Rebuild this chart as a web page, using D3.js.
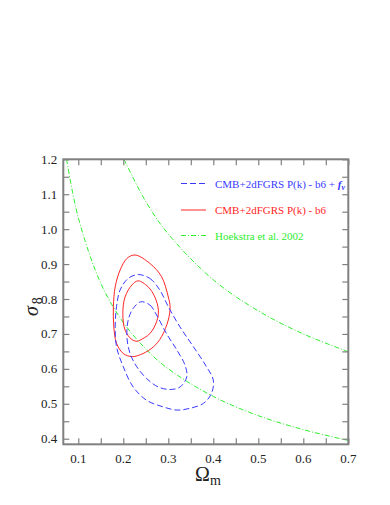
<!DOCTYPE html>
<html>
<head>
<meta charset="utf-8">
<script src="https://cdn.jsdelivr.net/npm/d3@7"></script>
<style>
  body { margin: 0; background: #fff; }
  svg { display: block; }
  svg text { font-family: "Liberation Serif", "Times New Roman", "DejaVu Serif", serif; }
</style>
</head>
<body>
<svg id="chart"></svg>
<script>
const width = 390, height = 505;
const plotLeft = 63.3, plotRight = 348.3, plotTop = 159.3, plotBottom = 444.3;

// axis ticks
const xTicks = [0.1, 0.2, 0.3, 0.4, 0.5, 0.6, 0.7];
const yTicks = [0.4, 0.5, 0.6, 0.7, 0.8, 0.9, 1.0, 1.1, 1.2];

// Hoekstra et al. 2002 curves
const hoekLowOm  = [0.074, 0.1, 0.15, 0.2, 0.25, 0.3, 0.4, 0.5, 0.6, 0.7];
const hoekLowS8  = [1.2, 1.033, 0.845, 0.733, 0.657, 0.600, 0.521, 0.466, 0.426, 0.395];
const hoekHighOm = [0.2015, 0.25, 0.3, 0.4, 0.5, 0.6, 0.7];
const hoekHighS8 = [1.2, 1.079, 0.986, 0.855, 0.766, 0.700, 0.649];

// CMB+2dFGRS P(k) - b6 (red, solid)
const redOuterOm = [0.226, 0.259, 0.285, 0.300, 0.304, 0.300, 0.285, 0.267, 0.244, 0.220, 0.200, 0.185, 0.179, 0.178, 0.182, 0.193, 0.208];
const redOuterS8 = [0.926, 0.902, 0.864, 0.806, 0.778, 0.740, 0.692, 0.663, 0.644, 0.635, 0.644, 0.673, 0.720, 0.778, 0.835, 0.883, 0.916];
const redInnerOm = [0.233, 0.255, 0.270, 0.278, 0.274, 0.259, 0.237, 0.231, 0.219, 0.204, 0.199, 0.204, 0.219];
const redInnerS8 = [0.852, 0.835, 0.806, 0.768, 0.735, 0.701, 0.682, 0.679, 0.684, 0.711, 0.759, 0.806, 0.840];

// CMB+2dFGRS P(k) - b6 + f_nu (blue, dashed)
const blueOuterOm = [0.233, 0.259, 0.281, 0.300, 0.326, 0.356, 0.385, 0.400, 0.396, 0.378, 0.348, 0.319, 0.289, 0.252, 0.222, 0.200, 0.185, 0.182, 0.185, 0.193, 0.211];
const blueOuterS8 = [0.870, 0.859, 0.826, 0.778, 0.720, 0.663, 0.606, 0.568, 0.530, 0.501, 0.487, 0.482, 0.491, 0.510, 0.548, 0.606, 0.663, 0.720, 0.778, 0.826, 0.859];
const blueInnerOm = [0.239, 0.259, 0.274, 0.296, 0.319, 0.337, 0.341, 0.326, 0.304, 0.278, 0.252, 0.230, 0.215, 0.208, 0.211, 0.222];
const blueInnerS8 = [0.792, 0.783, 0.754, 0.701, 0.654, 0.611, 0.577, 0.548, 0.541, 0.548, 0.572, 0.606, 0.644, 0.692, 0.740, 0.773];

const legendLabels = ["CMB+2dFGRS P(k) - b6 + ", "CMB+2dFGRS P(k) - b6", "Hoekstra et al. 2002"];

const blue = "#3a3aff", red = "#ff2525", green = "#30ee30", frame = "#808080";
const serif = "'Liberation Serif', 'Times New Roman', 'DejaVu Serif', serif";

const svg = d3.select("#chart").attr("width", width).attr("height", height);

const x = d3.scaleLinear().domain([0.0667, 0.7]).range([plotLeft, plotRight]);
const y = d3.scaleLinear().domain([0.384, 1.2]).range([plotBottom, plotTop]);

const zip = (a, b) => a.map((v, i) => [v, b[i]]);

svg.append("clipPath").attr("id", "clip")
    .append("rect").attr("x", plotLeft).attr("y", plotTop)
    .attr("width", plotRight - plotLeft).attr("height", plotBottom - plotTop);

const plot = svg.append("g").attr("clip-path", "url(#clip)");

const curveLine = d3.line().x(d => x(d[0])).y(d => y(d[1])).curve(d3.curveCatmullRom);
const closedLine = d3.line().x(d => x(d[0])).y(d => y(d[1])).curve(d3.curveCatmullRomClosed);

// green curves
[[hoekLowOm, hoekLowS8], [hoekHighOm, hoekHighS8]].forEach(([a, b]) => {
    plot.append("path")
        .attr("d", curveLine(zip(a, b)))
        .attr("fill", "none")
        .attr("stroke", green)
        .attr("stroke-width", 1)
        .attr("stroke-dasharray", "5,2,1,2");
});

// red contours
[[redOuterOm, redOuterS8], [redInnerOm, redInnerS8]].forEach(([a, b]) => {
    plot.append("path")
        .attr("d", closedLine(zip(a, b)))
        .attr("fill", "none")
        .attr("stroke", red)
        .attr("stroke-width", 1);
});

// blue contours
[[blueOuterOm, blueOuterS8], [blueInnerOm, blueInnerS8]].forEach(([a, b]) => {
    plot.append("path")
        .attr("d", closedLine(zip(a, b)))
        .attr("fill", "none")
        .attr("stroke", blue)
        .attr("stroke-width", 1)
        .attr("stroke-dasharray", "6,3");
});

// axes: ticks inward, minor ticks every 0.05
const xAll = d3.range(0.1, 0.701, 0.05);
const yAll = d3.range(0.4, 1.201, 0.05);

const bAxis = d3.axisBottom(x).tickValues(xAll).tickSizeInner(-6).tickSizeOuter(0).tickFormat("");
const tAxis = d3.axisTop(x).tickValues(xAll).tickSizeInner(-6).tickSizeOuter(0).tickFormat("");
const lAxis = d3.axisLeft(y).tickValues(yAll).tickSizeInner(-6).tickSizeOuter(0).tickFormat("");
const rAxis = d3.axisRight(y).tickValues(yAll).tickSizeInner(-6).tickSizeOuter(0).tickFormat("");

const styleAxis = g => {
    g.select(".domain").remove();
    g.selectAll("line").attr("stroke", frame).attr("stroke-width", 1.2);
};

svg.append("g").attr("transform", `translate(0,${plotBottom})`).call(bAxis).call(styleAxis);
svg.append("g").attr("transform", `translate(0,${plotTop})`).call(tAxis).call(styleAxis);
svg.append("g").attr("transform", `translate(${plotLeft},0)`).call(lAxis).call(styleAxis);
svg.append("g").attr("transform", `translate(${plotRight},0)`).call(rAxis).call(styleAxis);

svg.append("rect")
    .attr("x", plotLeft).attr("y", plotTop)
    .attr("width", plotRight - plotLeft).attr("height", plotBottom - plotTop)
    .attr("fill", "none").attr("stroke", frame).attr("stroke-width", 2);

// tick labels
svg.append("g").selectAll("text").data(xTicks).enter().append("text")
    .attr("x", d => x(d)).attr("y", plotBottom + 19)
    .attr("text-anchor", "middle")
    .attr("font-family", serif)
    .attr("font-size", 13).attr("fill", "#222")
    .text(d => d3.format(".1f")(d));

svg.append("g").selectAll("text").data(yTicks).enter().append("text")
    .attr("x", plotLeft - 6).attr("y", d => y(d) + 4.5)
    .attr("text-anchor", "end")
    .attr("font-family", serif)
    .attr("font-size", 13).attr("fill", "#222")
    .text(d => d3.format(".1f")(d));

// axis titles
const xt = svg.append("text").attr("x", 195).attr("y", 481)
    .attr("font-family", serif)
    .attr("font-size", 20).attr("fill", "#222");
xt.append("tspan").text("\u03A9");
xt.append("tspan").attr("font-size", 14).attr("dy", 4).text("m");

const yt = svg.append("text")
    .attr("transform", "translate(38,316) rotate(-90)")
    .attr("font-family", serif)
    .attr("font-size", 20).attr("fill", "#222");
yt.append("tspan").attr("font-style", "italic").text("\u03C3");
yt.append("tspan").attr("font-size", 14).attr("dy", 4).attr("dx", 2).text("8");

// legend
const legY = [183.5, 210, 235.5];
const legStyles = [
    { color: blue, dash: "6,3" },
    { color: red, dash: null },
    { color: green, dash: "5,2,1,2" }
];
legStyles.forEach((s, i) => {
    svg.append("line")
        .attr("x1", 181).attr("x2", 206)
        .attr("y1", legY[i]).attr("y2", legY[i])
        .attr("stroke", s.color).attr("stroke-width", 1)
        .attr("stroke-dasharray", s.dash);
    const t = svg.append("text")
        .attr("x", 215).attr("y", legY[i] + 4)
        .attr("font-family", serif)
        .attr("font-size", 11).attr("fill", s.color)
        .text(legendLabels[i]);
    if (i === 0) {
        t.append("tspan").attr("font-style", "italic").attr("font-weight", "bold").text("f");
        t.append("tspan").attr("font-style", "italic").attr("font-weight", "bold").attr("font-size", 8).attr("dy", 2).text("\u03BD");
    }
});
</script>
</body>
</html>
